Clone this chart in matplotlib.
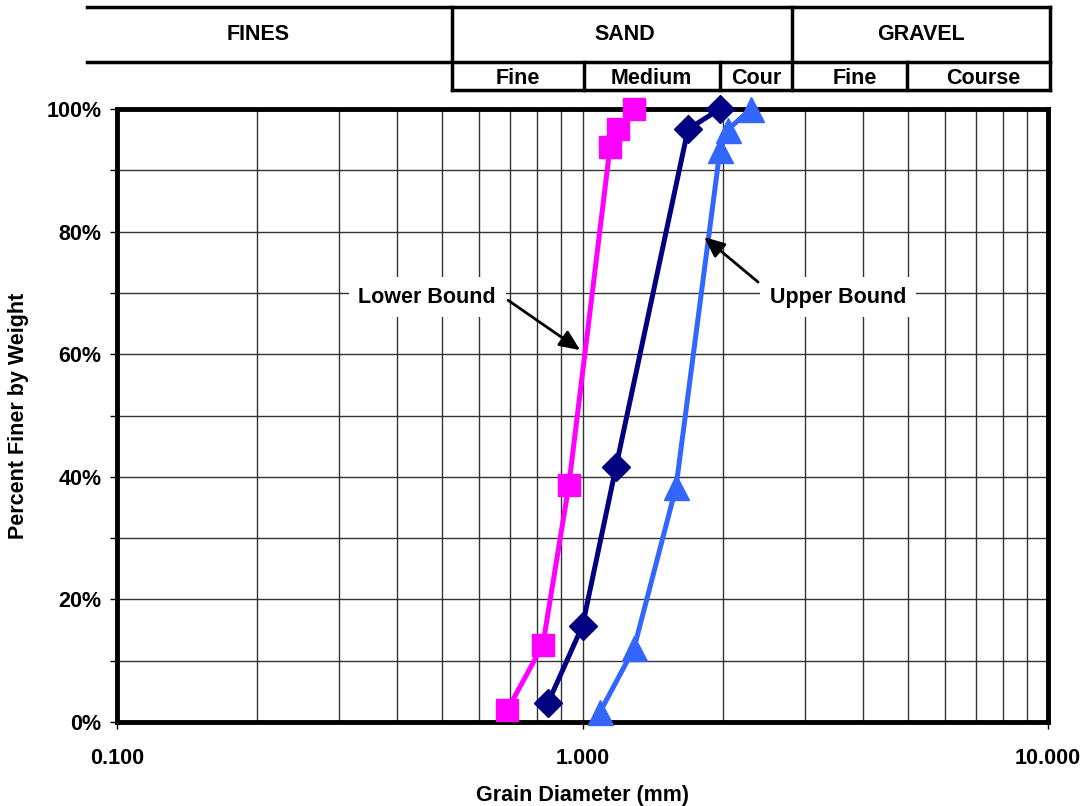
import numpy as np
import matplotlib.pyplot as plt
from matplotlib.lines import Line2D
from matplotlib.ticker import FixedLocator, NullFormatter

plt.rcParams['font.family'] = ['Liberation Sans', 'DejaVu Sans']
plt.rcParams['font.weight'] = 'bold'

# grain size curves (diameter in mm, percent finer)
lower_d = [0.69, 0.822, 0.935, 1.146, 1.19, 1.29]
lower_p = [2.0, 12.6, 38.7, 93.8, 96.7, 100.0]

mid_d = [0.843, 1.0, 1.18, 1.685, 1.974]
mid_p = [3.1, 15.7, 41.6, 96.7, 100.0]

upper_d = [1.09, 1.29, 1.588, 1.974, 2.05, 2.30]
upper_p = [1.6, 12.0, 38.3, 93.3, 96.6, 100.0]

x_ticks = [0.1, 1.0, 10.0]
x_ticklabels = ['0.100', '1.000', '10.000']
y_ticks = [0, 20, 40, 60, 80, 100]
y_ticklabels = ['0%', '20%', '40%', '60%', '80%', '100%']

# classification header: (label, x centre px)
header_top = [('FINES', 258), ('SAND', 625), ('GRAVEL', 921)]
header_sub = [('Fine', 518), ('Medium', 651), ('Cour', 756), ('Fine', 855), ('Course', 983)]

W, H = 1085, 806
FS = 15.5
fig = plt.figure(figsize=(W / 100, H / 100), dpi=100)


def fx(x):
    return x / W


def fy(y):
    return 1 - y / H


ax = fig.add_axes([fx(117), fy(722), (1048 - 117) / W, (722 - 109) / H])
ax.set_xscale('log')
ax.set_xlim(0.1, 10)
ax.set_ylim(0, 100)

# grid
minor_x = [m * 10.0 ** e for e in (-1, 0) for m in range(2, 10)]
ax.xaxis.set_major_locator(FixedLocator(x_ticks))
ax.xaxis.set_minor_locator(FixedLocator(minor_x))
ax.xaxis.set_minor_formatter(NullFormatter())
ax.set_xticklabels(x_ticklabels)
ax.yaxis.set_major_locator(FixedLocator(y_ticks))
ax.yaxis.set_minor_locator(FixedLocator([10, 30, 50, 70, 90]))
ax.set_yticklabels(y_ticklabels)
ax.grid(True, which='both', color='#333333', lw=1.0)
ax.set_axisbelow(True)

ax.tick_params(axis='both', which='major', labelsize=FS, length=5, width=1, color='black')
ax.tick_params(axis='x', which='major', pad=14)
ax.tick_params(axis='y', which='major', pad=6)
ax.tick_params(axis='x', which='minor', length=0)
ax.tick_params(axis='y', which='minor', length=5, width=1)
for s in ax.spines.values():
    s.set_linewidth(3.5)
    s.set_zorder(4)

ax.plot(lower_d, lower_p, color='#FF00FF', lw=3.6, marker='s', ms=16, clip_on=False, zorder=5)
ax.plot(mid_d, mid_p, color='#000080', lw=3.6, marker='D', ms=14, clip_on=False, zorder=5)
ax.plot(upper_d, upper_p, color='#3366FF', lw=3.6, marker='^', ms=18, clip_on=False, zorder=5)

ax.set_xlabel('Grain Diameter (mm)', fontsize=FS, fontweight='bold', labelpad=11)
ax.set_ylabel('Percent Finer by Weight', fontsize=FS, fontweight='bold', labelpad=13)

box = dict(boxstyle='square,pad=0.45', fc='white', ec='none')
arrow = dict(arrowstyle='-|>,head_length=0.8,head_width=0.35', color='black', lw=2)
ax.annotate('Lower Bound', xy=(1.0, 60.4), xytext=(0.464, 69.3), fontsize=FS,
            fontweight='bold', ha='center', va='center', bbox=box,
            arrowprops=dict(arrow, relpos=(1.0, 0.75)), zorder=6)
ax.annotate('Upper Bound', xy=(1.806, 79.4), xytext=(3.54, 69.3), fontsize=FS,
            fontweight='bold', ha='center', va='center', bbox=box,
            arrowprops=dict(arrow, relpos=(0.0, 0.75)), zorder=6)

# header table
hlw = 2.5
fig.add_artist(Line2D([fx(87), fx(1050)], [fy(7), fy(7)], color='black', lw=hlw))
fig.add_artist(Line2D([fx(87), fx(1050)], [fy(62), fy(62)], color='black', lw=hlw))
fig.add_artist(Line2D([fx(452), fx(1050)], [fy(90), fy(90)], color='black', lw=hlw))
for x in (452, 792, 1050):
    fig.add_artist(Line2D([fx(x), fx(x)], [fy(7), fy(90)], color='black', lw=hlw))
for x in (584, 720, 907):
    fig.add_artist(Line2D([fx(x), fx(x)], [fy(62), fy(90)], color='black', lw=hlw))

for label, x in header_top:
    fig.text(fx(x), fy(35), label, fontsize=FS, fontweight='bold', ha='center', va='center')
for label, x in header_sub:
    fig.text(fx(x), fy(78), label, fontsize=FS, fontweight='bold', ha='center', va='center')

fig.savefig('out.png', dpi=100)
